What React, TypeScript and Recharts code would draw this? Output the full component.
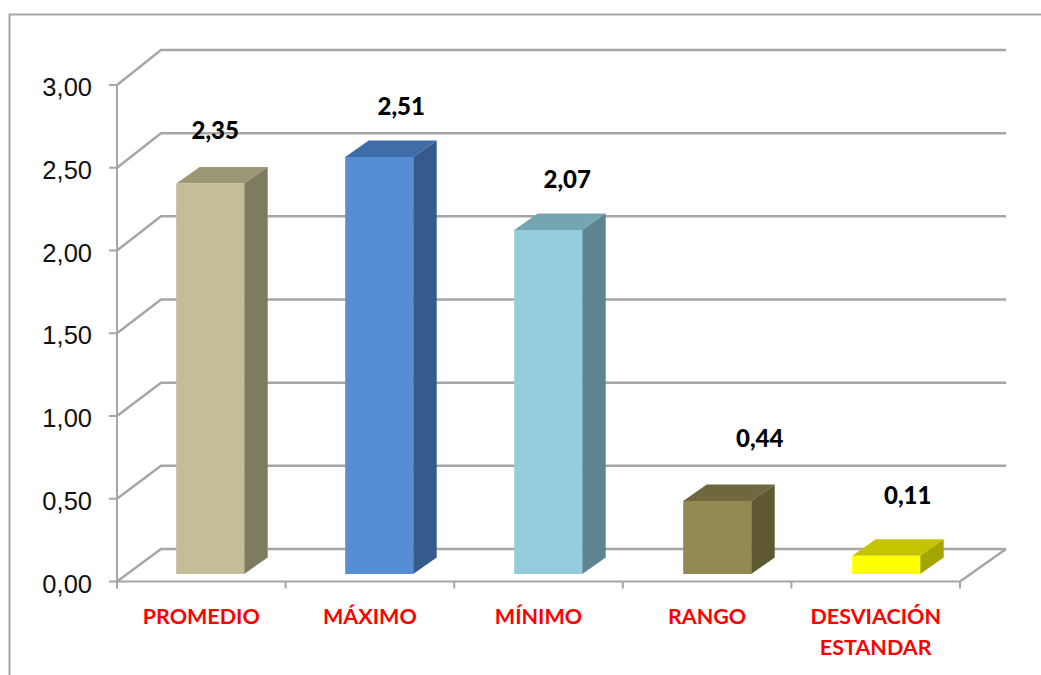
import React from "react";
import { BarChart, Bar, XAxis, YAxis, CartesianGrid, LabelList } from "recharts";

const categories = ["PROMEDIO", "MÁXIMO", "MÍNIMO", "RANGO", "DESVIACIÓN ESTANDAR"];
const values = [2.35, 2.51, 2.07, 0.44, 0.11];
const yTicks = [0, 0.5, 1, 1.5, 2, 2.5, 3];

const frontColors = ["#C4BD97", "#558ED5", "#93CDDD", "#938953", "#FFFF00"];
const topColors = ["#9C9775", "#3F6DA8", "#76A5B2", "#6F683F", "#C4C400"];
const sideColors = ["#7F7B61", "#345B8C", "#5C8491", "#5F5932", "#A5A500"];
// hand-placed label nudges, as in the source chart
const labelNudgeX = [5, 22, 19, 42.5, 21.5];
const labelNudgeY = [-38, -35, -35, -47, -45];

const data = categories.map((name, i) => ({ name, value: values[i] }));

const W = 1041, H = 675;
const LEFT = 117, RIGHT = 960, TOP = 85, BOTTOM = 581.5;
const BACK_DX = 45;
const GRID = "#A6A6A6";
const BAND = (RIGHT - LEFT) / categories.length;
const BAR_DX = 9.2, BAR_STEP = 0.4, BAR_DY = -7.5, DEPTH_X = 23.5, DEPTH_Y = 16.5, H_SCALE = 1.004;

const fmt = (v: number) => v.toFixed(2).replace(".", ",");

function backY(y: number) {
  return y - 32.5 - (BOTTOM - y) * 0.005;
}

function GridLine(p: any) {
  const y = p.y1;
  const by = backY(y);
  const isFloor = Math.abs(y - BOTTOM) < 1;
  return (
    <g fill="none" stroke={GRID} strokeWidth={2.5}>
      <path d={`M${LEFT},${y}L${LEFT + BACK_DX - 1},${by}L${RIGHT + 46},${by}`} />
      {isFloor && <path d={`M${RIGHT},${y}L${RIGHT + 46},${by}`} />}
    </g>
  );
}

function Bar3D(p: any) {
  const i = p.index;
  const w = p.width;
  const h = p.height * H_SCALE;
  const x = p.x + BAR_DX + i * BAR_STEP;
  const bottom = p.y + p.height + BAR_DY;
  const y = bottom - h;
  return (
    <g>
      <path fill={topColors[i]} d={`M${x},${y}L${x + DEPTH_X},${y - DEPTH_Y}L${x + w + DEPTH_X},${y - DEPTH_Y}L${x + w},${y}Z`} />
      <path fill={sideColors[i]} d={`M${x + w},${y}L${x + w + DEPTH_X},${y - DEPTH_Y}L${x + w + DEPTH_X},${bottom - DEPTH_Y}L${x + w},${bottom}Z`} />
      <rect x={x} y={y} width={w} height={h} fill={frontColors[i]} />
    </g>
  );
}

function ValueLabel(p: any) {
  const i = p.index;
  const cx = p.x + p.width / 2 + BAR_DX + i * BAR_STEP + labelNudgeX[i];
  const bottom = p.y + p.height + BAR_DY;
  const top = bottom - p.height * H_SCALE - DEPTH_Y;
  return (
    <text x={cx} y={top + labelNudgeY[i]} textAnchor="middle" dominantBaseline="central"
      fontFamily="Lato" fontWeight={900} fontSize={24} fill="#000">
      {fmt(p.value)}
    </text>
  );
}

function CategoryTick(p: any) {
  const { x, index, payload } = p;
  const label: string = payload.value;
  const parts = label.split(" ");
  const left = x - BAND / 2;
  return (
    <g>
      <line x1={left} x2={left} y1={BOTTOM} y2={BOTTOM + 7} stroke={GRID} strokeWidth={2} />
      {index === categories.length - 1 && (
        <line x1={x + BAND / 2} x2={x + BAND / 2} y1={BOTTOM} y2={BOTTOM + 7} stroke={GRID} strokeWidth={2} />
      )}
      {parts.map((t, k) => (
        <text key={k} x={x} y={BOTTOM + 34 + k * 31} textAnchor="middle" dominantBaseline="central"
          fontFamily="Lato" fontWeight={700} fontSize={21.5} fill="#FF0000">
          {t}
        </text>
      ))}
    </g>
  );
}

function ValueTick(p: any) {
  const { x, y, payload } = p;
  return (
    <text x={x - 17} y={y + 2} textAnchor="end" dominantBaseline="central"
      fontFamily="Liberation Sans" fontSize={25.5} fill="#111">
      {fmt(payload.value)}
    </text>
  );
}

export default function App() {
  return (
    <div style={{ position: "fixed", left: 0, top: 0, width: W, height: H, overflow: "hidden", background: "#fff" }}>
      <svg width={W} height={H} style={{ position: "absolute", left: 0, top: 0 }}>
        <path d={`M9.5,${H}L9.5,14.5L${W},14.5`} fill="none" stroke={GRID} strokeWidth={2} />
      </svg>
      <div style={{ position: "absolute", left: 0, top: 0 }}>
        <BarChart width={W} height={H} data={data} barSize={68}
          margin={{ left: 0, right: W - RIGHT, top: TOP, bottom: 0 }}>
          <CartesianGrid vertical={false} horizontal={(p: any) => <GridLine key={p.key ?? p.y1} {...p} />} />
          <YAxis domain={[0, 3]} ticks={yTicks} width={LEFT} interval={0}
            stroke={GRID} strokeWidth={2} tickSize={8} tickMargin={0} tick={<ValueTick />} />
          <XAxis dataKey="name" height={H - BOTTOM} interval={0} tickLine={false}
            stroke={GRID} strokeWidth={2} tick={<CategoryTick />} />
          <Bar dataKey="value" isAnimationActive={false} shape={<Bar3D />}>
            <LabelList dataKey="value" content={(p: any) => <ValueLabel {...p} />} />
          </Bar>
        </BarChart>
      </div>
    </div>
  );
}
